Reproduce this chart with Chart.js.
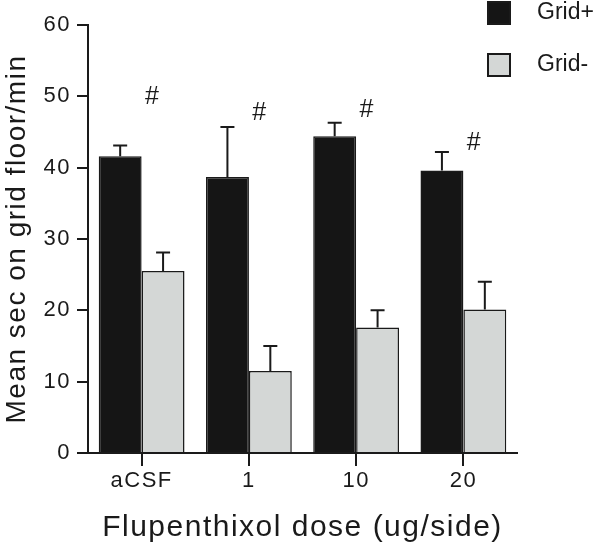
<!DOCTYPE html>
<html>
<head>
<meta charset="utf-8">
<script src="https://cdn.jsdelivr.net/npm/chart.js@4.4.1/dist/chart.umd.min.js"></script>
<style>
  body { margin: 0; background: #fff; }
  #wrap { width: 600px; height: 554px; }
</style>
</head>
<body>
<div id="wrap"><canvas id="myChart"></canvas></div>
<script>
const categories = ['aCSF', '1', '10', '20']
const gridPlus = [41.6, 38.7, 44.4, 39.6]
const gridPlusErr = [1.5, 7.0, 1.9, 2.6]
const gridMinus = [25.5, 11.5, 17.6, 20.1]
const gridMinusErr = [2.6, 3.5, 2.4, 3.9]
// y position of the "#" marks above each dose group
const hashMarks = [49.9, 47.7, 48.1, 43.5]
const yTicks = [0, 10, 20, 30, 40, 50, 60]

const ink = '#1a1a1a'
const fontFamily = '"Liberation Sans", Arial, Helvetica, sans-serif'

// the original lettering is a bit wide, spread it a little
const wideText = {
  id: 'wideText',
  beforeDraw(chart) { chart.ctx.letterSpacing = '1.5px' },
  afterDraw(chart) { chart.ctx.letterSpacing = '0px' },
}

// upper error bars, drawn from each bar top
const errorBars = {
  id: 'errorBars',
  afterDatasetsDraw(chart) {
    const ctx = chart.ctx
    const y = chart.scales.y
    ctx.save()
    ctx.strokeStyle = ink
    ctx.lineWidth = 2
    chart.data.datasets.forEach((ds, di) => {
      const meta = chart.getDatasetMeta(di)
      meta.data.forEach((bar, i) => {
        const top = y.getPixelForValue(ds.data[i] + ds.errors[i])
        ctx.beginPath()
        ctx.moveTo(bar.x, bar.y)
        ctx.lineTo(bar.x, top)
        ctx.moveTo(bar.x - 7, top)
        ctx.lineTo(bar.x + 7, top)
        ctx.stroke()
      })
    })
    ctx.restore()
  }
}

// "#" significance marks
const hashLabels = {
  id: 'hashLabels',
  afterDatasetsDraw(chart) {
    const ctx = chart.ctx
    const { x, y } = chart.scales
    ctx.save()
    ctx.fillStyle = ink
    ctx.font = '25px ' + fontFamily
    ctx.textAlign = 'center'
    ctx.textBaseline = 'middle'
    hashMarks.forEach((v, i) => {
      ctx.fillText('#', x.getPixelForValue(i) + 11, y.getPixelForValue(v))
    })
    ctx.restore()
  }
}

// legend in the top right corner
const cornerLegend = {
  id: 'cornerLegend',
  afterDraw(chart) {
    const ctx = chart.ctx
    ctx.save()
    chart.data.datasets.forEach((ds, i) => {
      const top = 2 + i * 52
      ctx.fillStyle = ds.backgroundColor
      ctx.fillRect(488, top, 22, 22)
      ctx.strokeStyle = ink
      ctx.lineWidth = 2
      ctx.strokeRect(488, top, 22, 22)
      ctx.fillStyle = ink
      ctx.font = '23px ' + fontFamily
      ctx.textBaseline = 'middle'
      ctx.textAlign = 'left'
      ctx.fillText(ds.label, 537, top + 11)
    })
    ctx.restore()
  }
}

new Chart(document.getElementById('myChart').getContext('2d'), {
  type: 'bar',
  data: {
    labels: categories,
    datasets: [
      {
        label: 'Grid+',
        data: gridPlus,
        errors: gridPlusErr,
        backgroundColor: '#151515',
        borderColor: ink,
        borderWidth: 1.5,
      },
      {
        label: 'Grid-',
        data: gridMinus,
        errors: gridMinusErr,
        backgroundColor: '#d4d7d6',
        borderColor: ink,
        borderWidth: 1.5,
      },
    ],
  },
  options: {
    responsive: true,
    maintainAspectRatio: false,
    animation: false,
    layout: { padding: { top: 25, right: 83, left: 0, bottom: 0 } },
    datasets: { bar: { categoryPercentage: 0.8, barPercentage: 1.0 } },
    plugins: {
      legend: { display: false },
      tooltip: { enabled: false },
    },
    scales: {
      x: {
        offset: true,
        grid: {
          display: true,
          offset: false,
          drawOnChartArea: false,
          drawTicks: true,
          tickLength: 13,
          color: ink,
          lineWidth: 2,
        },
        border: { display: true, color: ink, width: 2 },
        ticks: { color: ink, padding: 2, font: { family: fontFamily, size: 22 } },
        title: {
          display: true,
          text: 'Flupenthixol dose (ug/side)',
          color: ink,
          padding: { top: 0, bottom: 8 },
          font: { family: fontFamily, size: 30 },
        },
        afterFit(scale) { scale.height = 101 },
      },
      y: {
        min: 0,
        max: 60,
        afterBuildTicks(scale) { scale.ticks = yTicks.map(v => ({ value: v })) },
        grid: {
          display: true,
          drawOnChartArea: false,
          drawTicks: true,
          tickLength: 11,
          color: ink,
          lineWidth: 2,
        },
        border: { display: true, color: ink, width: 2 },
        ticks: { color: ink, padding: 6, font: { family: fontFamily, size: 22 } },
        title: {
          display: true,
          text: 'Mean sec on grid floor/min',
          color: ink,
          padding: { top: 0, bottom: 0 },
          font: { family: fontFamily, size: 28 },
        },
        afterFit(scale) { scale.width = 88 },
      },
    },
  },
  plugins: [wideText, errorBars, hashLabels, cornerLegend],
})
</script>
</body>
</html>
